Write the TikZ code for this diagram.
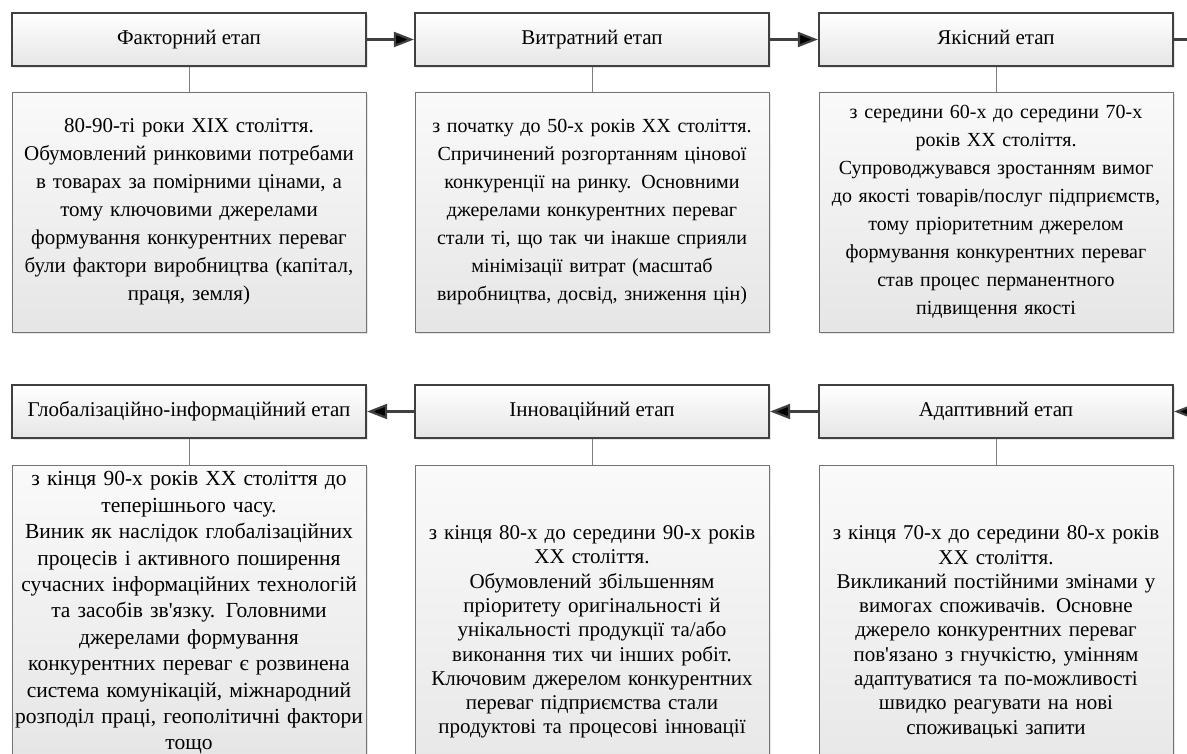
\documentclass[tikz,border=0pt]{standalone}
\usepackage{fontspec}
\setmainfont{Liberation Serif}[Ligatures=TeXOff]
\usepackage{tikz}
\usetikzlibrary{arrows.meta,shadows}
\definecolor{edgegray}{HTML}{404040}
\definecolor{linegray}{HTML}{7F7F7F}

\begin{document}
\begin{tikzpicture}[x=1pt,y=-1pt,
	stage/.style={shape=rectangle,draw=edgegray,line width=2.2pt,top color=white,bottom color=black!10,
		minimum width=354pt,minimum height=53pt,inner sep=0pt,text height=14pt,text depth=4pt,
		font=\fontsize{21}{24}\selectfont,
		drop shadow={shadow xshift=2pt,shadow yshift=-2pt,opacity=0.2}},
	info/.style={shape=rectangle,draw=black!55,line width=0.9pt,top color=black!2,bottom color=black!10,
		minimum width=354pt,text width=348pt,align=center,inner sep=0pt,
		drop shadow={shadow xshift=2pt,shadow yshift=-2pt,opacity=0.2}},
	flow/.style={draw=edgegray,line width=2.2pt,-{Triangle[length=20pt,width=15pt]}},
	link/.style={draw=linegray,line width=0.9pt}]
	
	\useasboundingbox (0,0) rectangle (1187,754);
	\clip (0,0) rectangle (1187,754);
	
	\node[stage] (a) at (189,39.5)     {Факторний етап};
	\node[stage] (b) at (592,39.5)     {Витратний етап};
	\node[stage] (c) at (996,39.5)     {Якісний етап};
	\node[stage] (d) at (996,411.5)    {Адаптивний етап};
	\node[stage] (e) at (592,411.5)    {Інноваційний етап};
	\node[stage] (f) at (189,411.5)    {Глобалізаційно-інформаційний етап};
	
	\node[info,minimum height=240pt,font=\fontsize{21}{28}\selectfont] (g) at (189,212)     {80-90-ті роки XIX століття.\\Обумовлений ринковими потребами\\в товарах за помірними цінами, а\\тому ключовими джерелами\\формування конкурентних переваг\\були фактори виробництва (капітал,\\праця, земля)};
	\node[info,minimum height=240pt,font=\fontsize{20}{28}\selectfont] (h) at (592,212)     {з початку до 50-х років XX століття.\\Спричинений розгортанням цінової\\конкуренції на ринку. Основними\\джерелами конкурентних переваг\\стали ті, що так чи інакше сприяли\\мінімізації витрат (масштаб\\виробництва, досвід, зниження цін)};
	\node[info,minimum height=240pt,font=\fontsize{20}{28}\selectfont] (i) at (996,212)     {з середини 60-х до середини 70-х\\років XX століття.\\Супроводжувався зростанням вимог\\до якості товарів/послуг підприємств,\\тому пріоритетним джерелом\\формування конкурентних переваг\\став процес перманентного\\підвищення якості};
	\node[info,minimum height=334pt,font=\fontsize{21}{24.3}\selectfont] (j) at (996,632)     {з кінця 70-х до середини 80-х років\\XX століття.\\Викликаний постійними змінами у\\вимогах споживачів. Основне\\джерело конкурентних переваг\\пов'язано з гнучкістю, умінням\\адаптуватися та по-можливості\\швидко реагувати на нові\\споживацькі запити};
	\node[info,minimum height=334pt,font=\fontsize{21}{24.3}\selectfont] (k) at (592,632)     {з кінця 80-х до середини 90-х років\\XX століття.\\Обумовлений збільшенням\\пріоритету оригінальності й\\унікальності продукції та/або\\виконання тих чи інших робіт.\\Ключовим джерелом конкурентних\\переваг підприємства стали\\продуктові та процесові інновації};
	\node[info,minimum height=296pt,font=\fontsize{21.5}{26.4}\selectfont] (l) at (189,613)     {з кінця 90-х років XX століття до\\теперішнього часу.\\Виник як наслідок глобалізаційних\\процесів і активного поширення\\сучасних інформаційних технологій\\та засобів зв'язку. Головними\\джерелами формування\\конкурентних переваг є розвинена\\система комунікацій, міжнародний\\розподіл праці, геополітичні фактори\\тощо};
	
	\coordinate (out) at (1200,39.5);
	\coordinate (in) at (1200,411.5);
	
	\path[link] (a) edge (g);
	\path[link] (b) edge (h);
	\path[link] (c) edge (i);
	\path[link] (d) edge (j);
	\path[link] (e) edge (k);
	\path[link] (f) edge (l);
	\path[flow] (a) edge (b);
	\path[flow] (b) edge (c);
	\path[draw=edgegray,line width=2.2pt] (c) edge (out);
	\path[flow] (in) edge (d);
	\path[flow] (d) edge (e);
	\path[flow] (e) edge (f);
	
\end{tikzpicture}
\end{document}
